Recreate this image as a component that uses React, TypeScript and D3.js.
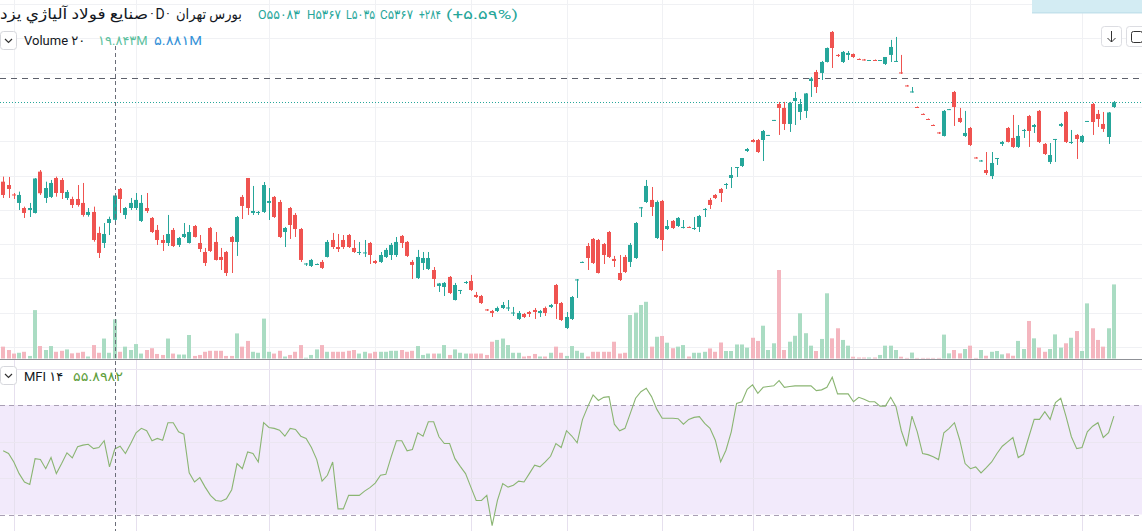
import React from 'react';
import * as d3 from 'd3';

const W = 1142;
const H = 531;

// OHLC (price units)
const opens = [
  5528, 5489, 5379, 5280, 5221, 5198, 5163, 5645, 5338, 5350,
  5571, 5548, 5338, 5326, 5326, 5280, 5140, 5175, 4930, 4813,
  5046, 5083, 5443, 5140, 5221, 5221, 5070, 5221, 5105, 4965,
  4848, 4813, 4965, 4790, 4883, 4813, 5011, 4813, 4708, 4988,
  4825, 4650, 4708, 4883, 4825, 5350, 5571, 5163, 5163, 5175,
  5280, 5350, 5291, 4941, 5221, 5140, 4976, 4563, 4545, 4563,
  4592, 4650, 4848, 4766, 4848, 4906, 4755, 4697, 4691, 4813,
  4603, 4592, 4650, 4673, 4673, 4895, 4825, 4592, 4405, 4580,
  4510, 4498, 4312, 4300, 4417, 4148, 4259, 4353, 4370, 4207,
  4195, 4038, 4020, 4020, 4055, 4049, 3991, 3927, 3985, 4008,
  4032, 3997, 4055, 4067, 4323, 4113, 3822, 3927, 4376, 4586,
  4778, 4860, 4848, 4801, 4941, 4627, 4463, 4650, 4592, 4638,
  5221, 5291, 5315, 4871, 5303, 4976, 5070, 5011, 4994, 5000,
  4982, 5000, 5204, 5315, 5373, 5443, 5495, 5571, 5693, 5711,
  5886, 6014, 6014, 6014, 6067, 6242, 6434, 6388, 6201, 6469,
  6341, 6353, 6702, 6807, 6796, 6924, 7274, 7006, 6924, 7006,
  7017, 6959, 6953, 6941, 6947, 6941, 6901, 7006, 6930, 6802,
  6650, 6574, 6399, 6318, 6259, 6189, 6102, 6061, 6370, 6574,
  6271, 6061, 6154, 5810, 5769, 5664, 5594, 5798, 5968, 6154,
  6038, 5933, 6125, 6294, 6166, 6353, 5968, 5758, 6020, 6178,
  6341, 5985, 6073, 5991, 6230, 6434, 6318, 6201, 6049, 6399,
];
const highs = [
  5587, 5583, 5396, 5412, 5237, 5280, 5571, 5664, 5528, 5548,
  5587, 5571, 5431, 5353, 5489, 5513, 5221, 5237, 5003, 5046,
  5120, 5367, 5454, 5233, 5338, 5396, 5373, 5396, 5116, 5023,
  4906, 5140, 4988, 4883, 5046, 5023, 5023, 4906, 4755, 5000,
  4941, 4755, 4720, 4895, 5128, 5373, 5571, 5478, 5186, 5524,
  5454, 5361, 5315, 5000, 5233, 5163, 4988, 4580, 4627, 4574,
  4615, 4848, 4930, 4918, 4906, 4918, 4848, 4825, 4848, 4825,
  4615, 4708, 4755, 4813, 4883, 4906, 4836, 4615, 4732, 4708,
  4708, 4533, 4347, 4358, 4428, 4347, 4265, 4370, 4440, 4242,
  4207, 4043, 4032, 4072, 4125, 4148, 4067, 4020, 3997, 4020,
  4055, 4032, 4072, 4102, 4335, 4125, 4008, 4195, 4393, 4597,
  4813, 4871, 4860, 4813, 4953, 4662, 4673, 4673, 4813, 5058,
  5233, 5548, 5466, 5309, 5315, 5081, 5081, 5116, 5081, 5006,
  5116, 5140, 5221, 5338, 5384, 5454, 5513, 5699, 5699, 5804,
  5921, 6026, 6026, 6131, 6073, 6248, 6458, 6458, 6458, 6574,
  6492, 6562, 6749, 6831, 6936, 7093, 7285, 7017, 7052, 7052,
  7023, 6965, 6959, 6947, 6953, 6947, 6982, 7181, 7216, 7006,
  6656, 6632, 6405, 6324, 6265, 6195, 6108, 6364, 6376, 6586,
  6388, 6353, 6166, 5816, 5781, 5874, 5874, 5804, 6003, 6166,
  6306, 6189, 6143, 6306, 6201, 6364, 5979, 5979, 6026, 6213,
  6353, 6131, 6084, 6073, 6236, 6446, 6364, 6341, 6341, 6469,
];
const lows = [
  5338, 5338, 5326, 5198, 5105, 5116, 5157, 5373, 5280, 5338,
  5353, 5326, 5315, 5221, 5237, 5120, 5120, 4828, 4638, 4755,
  4906, 5035, 5163, 5093, 5198, 5198, 5058, 5163, 4930, 4790,
  4720, 4778, 4766, 4766, 4871, 4807, 4877, 4708, 4545, 4708,
  4609, 4498, 4428, 4463, 4662, 5093, 5140, 5140, 5140, 5163,
  5081, 5105, 4871, 4766, 4860, 4883, 4592, 4545, 4533, 4557,
  4510, 4644, 4743, 4708, 4743, 4755, 4697, 4673, 4650, 4568,
  4568, 4580, 4638, 4615, 4650, 4755, 4650, 4393, 4393, 4498,
  4498, 4300, 4242, 4195, 4218, 4143, 4218, 4335, 4253, 4172,
  4102, 4020, 3950, 4008, 4043, 4020, 3962, 3915, 3938, 3950,
  3927, 3950, 3962, 4055, 3927, 3903, 3810, 3915, 4172, 4580,
  4498, 4568, 4457, 4568, 4638, 4533, 4370, 4463, 4533, 4627,
  5116, 5280, 5128, 4860, 4720, 4965, 4976, 5000, 4982, 4988,
  4965, 4941, 5116, 5210, 5326, 5291, 5443, 5454, 5583, 5699,
  5874, 5985, 5863, 5769, 6061, 6236, 6073, 6131, 6108, 6189,
  6248, 6271, 6516, 6562, 6714, 6918, 6854, 6982, 6912, 6947,
  6971, 6947, 6941, 6936, 6941, 6936, 6889, 6924, 6924, 6784,
  6638, 6568, 6388, 6306, 6248, 6178, 6084, 6055, 6364, 6178,
  6213, 6049, 5944, 5798, 5763, 5606, 5559, 5723, 5944, 5985,
  5921, 5921, 6038, 5933, 6096, 5979, 5839, 5734, 5758, 6166,
  5979, 5968, 5793, 5979, 6224, 6073, 6166, 6108, 5968, 6388,
];
const closes = [
  5373, 5443, 5367, 5373, 5163, 5221, 5565, 5393, 5454, 5513,
  5396, 5396, 5408, 5256, 5256, 5140, 5175, 4848, 4697, 4918,
  5093, 5367, 5326, 5221, 5280, 5315, 5280, 5186, 4941, 4848,
  4813, 4918, 4778, 4871, 4918, 4941, 4883, 4743, 4580, 4720,
  4615, 4615, 4463, 4825, 5116, 5245, 5221, 5186, 5175, 5489,
  5303, 5116, 4883, 4988, 5023, 4976, 4615, 4574, 4615, 4568,
  4522, 4825, 4766, 4743, 4766, 4766, 4708, 4708, 4703, 4673,
  4580, 4673, 4732, 4790, 4825, 4813, 4662, 4557, 4650, 4638,
  4638, 4393, 4341, 4347, 4230, 4323, 4265, 4358, 4265, 4183,
  4113, 4026, 3997, 4055, 4090, 4061, 4002, 3997, 3950, 3985,
  4008, 4020, 3997, 4090, 4102, 3915, 3950, 4183, 4388, 4592,
  4638, 4580, 4463, 4673, 4650, 4603, 4382, 4475, 4790, 5046,
  5229, 5478, 5233, 5291, 4848, 5011, 4988, 5105, 5000, 4994,
  4988, 5128, 5210, 5256, 5338, 5396, 5501, 5606, 5699, 5804,
  5909, 5991, 5874, 6119, 6073, 6248, 6388, 6201, 6446, 6504,
  6434, 6557, 6731, 6632, 6924, 7087, 7087, 6994, 7041, 7029,
  6982, 6953, 6947, 6947, 6944, 6947, 6982, 7099, 6936, 6790,
  6644, 6580, 6393, 6312, 6253, 6184, 6096, 6353, 6374, 6399,
  6224, 6096, 5956, 5804, 5775, 5629, 5746, 5804, 5991, 5991,
  5933, 6061, 6131, 6119, 6189, 5991, 5851, 5839, 6026, 6201,
  5991, 5991, 6026, 6061, 6236, 6224, 6259, 6143, 6335, 6454,
];
// Volume, millions
const volumes = [
  6.0, 4.3, 2.5, 2.9, 3.4, 1.3, 24.5, 6.3, 4.3, 6.3,
  3.4, 3.9, 4.6, 2.6, 2.9, 3.4, 1.0, 6.8, 2.9, 10.1,
  2.9, 19.843, 3.4, 6.0, 4.3, 7.3, 2.5, 4.3, 5.2, 2.3,
  1.8, 10.1, 2.5, 2.0, 2.0, 11.9, 1.3, 1.8, 3.4, 3.9,
  3.9, 3.9, 1.3, 1.3, 12.7, 6.0, 8.9, 3.4, 2.9, 20.2,
  3.4, 2.5, 3.9, 1.0, 1.8, 3.4, 6.8, 0.4, 1.8, 4.6,
  6.8, 3.4, 3.4, 3.4, 3.4, 3.9, 4.3, 2.5, 3.4, 2.6,
  3.4, 3.4, 3.4, 3.9, 3.9, 4.3, 3.4, 3.9, 6.3, 1.8,
  2.5, 2.5, 2.5, 6.8, 1.8, 4.6, 2.9, 2.5, 2.5, 2.5,
  2.5, 1.8, 8.5, 9.4, 10.1, 6.8, 2.9, 2.9, 1.0, 1.3,
  2.3, 1.0, 1.0, 2.9, 6.0, 2.9, 1.3, 6.3, 3.9, 2.9,
  1.0, 3.4, 3.4, 3.4, 3.4, 8.5, 2.5, 2.9, 22.0, 23.2,
  27.1, 28.7, 6.0, 11.0, 11.4, 8.0, 5.2, 6.0, 6.8, 1.0,
  2.9, 2.9, 3.4, 5.1, 3.4, 8.1, 3.8, 3.8, 7.1, 7.1,
  5.5, 10.5, 8.9, 16.6, 4.3, 7.7, 44.8, 4.3, 8.5, 11.5,
  22.9, 12.8, 6.5, 3.8, 9.9, 33.0, 10.2, 15.3, 9.4, 6.5,
  0.9, 0.5, 0.5, 0.5, 0.5, 1.8, 6.5, 6.5, 4.3, 0.9,
  0.3, 3.0, 0.3, 0.3, 0.3, 0.3, 0.3, 12.1, 2.6, 4.3,
  2.6, 4.8, 6.5, 0.3, 4.3, 1.4, 3.4, 3.8, 2.1, 2.6,
  1.4, 8.9, 4.8, 19.0, 10.2, 5.5, 3.4, 4.8, 12.2, 5.5,
  7.7, 10.5, 13.9, 3.8, 27.9, 15.3, 9.4, 6.0, 15.3, 37.5,
];
// Money Flow Index (14)
const mfi = [
  54.9, 53.4, 48.8, 42.4, 37.8, 36.5, 50.6, 50.1, 45.1, 51.2,
  42.4, 47.9, 53.8, 51.0, 57.1, 58.0, 58.5, 56.1, 56.7, 60.4,
  46.1, 55.9, 57.4, 53.4, 58.9, 64.8, 67.2, 65.9, 60.4, 61.7,
  60.7, 70.3, 70.3, 65.3, 64.0, 42.8, 37.8, 40.2, 35.0, 30.5,
  27.7, 27.3, 28.6, 33.6, 47.9, 45.1, 54.3, 53.4, 48.8, 70.3,
  67.7, 67.2, 66.2, 62.9, 67.2, 66.6, 62.9, 61.7, 56.7, 50.1,
  38.3, 41.5, 48.8, 23.1, 23.1, 30.5, 30.5, 30.5, 32.8, 34.7,
  37.2, 41.5, 42.0, 51.6, 60.4, 60.4, 54.9, 55.6, 64.8, 62.9,
  70.8, 70.8, 62.6, 58.9, 58.9, 50.6, 46.4, 42.4, 35.0, 27.7,
  27.7, 30.5, 13.9, 27.7, 36.9, 35.0, 36.0, 38.3, 37.8, 42.4,
  47.0, 46.1, 48.8, 51.9, 58.9, 56.7, 65.9, 63.0, 59.3, 72.0,
  79.1, 85.5, 82.5, 84.2, 84.6, 69.5, 65.9, 67.2, 75.4, 83.7,
  87.3, 89.2, 84.6, 77.6, 72.7, 72.7, 72.7, 72.5, 69.5, 72.1,
  73.2, 73.6, 69.9, 67.2, 60.7, 48.8, 55.2, 65.3, 80.9, 81.8,
  88.6, 91.0, 86.4, 89.7, 90.1, 90.5, 93.4, 89.7, 90.1, 90.5,
  90.5, 90.5, 90.5, 87.9, 88.3, 89.7, 95.2, 86.1, 86.1, 86.1,
  81.8, 84.2, 83.1, 81.8, 81.8, 79.4, 79.4, 84.2, 79.1, 65.9,
  57.4, 73.9, 65.3, 53.4, 52.8, 51.6, 50.1, 64.8, 67.2, 70.3,
  60.7, 47.9, 45.1, 46.1, 42.8, 45.7, 48.8, 53.4, 57.4, 59.8,
  62.2, 51.2, 53.0, 62.6, 72.1, 72.1, 76.3, 72.1, 81.3, 83.7,
  73.6, 62.6, 56.1, 56.7, 65.3, 68.4, 70.3, 62.2, 64.8, 73.9,
];

// bar indexes where a new month starts (vertical grid)
const monthStarts = [2, 25, 50, 70, 88, 106, 124, 141, 160, 182, 203];
const priceGrid = [3600, 4000, 4400, 4800, 5200, 5600, 6000, 6400, 6800, 7200, 7600];
const mfiGrid = [40, 60, 100];
const mfiBand = [20, 80];
const hoverIndex = 21;
const drawnLevel = 6734;

const symbolName = 'صنایع فولاد آلیاژي یزد';
const exchangeName = 'بورس تهران';
const ohlcLabels = [
  { t: 'O۵۵۰۸۳', x: 258, w: 42 },
  { t: 'H۵۳۶۷', x: 307, w: 34 },
  { t: 'L۵۰۳۵', x: 346, w: 29 },
  { t: 'C۵۳۶۷', x: 380, w: 33 },
  { t: '+۲۸۴', x: 419, w: 22 },
  { t: '(+۵.۵۹%)', x: 446, w: 72 },
];

const UP = '#26a69a';
const DOWN = '#ef5350';
const VOL_UP = '#aadcc3';
const VOL_DOWN = '#f4b6bf';
const GRID = '#f0f1f4';
const FONT = "Roboto, 'DejaVu Sans', sans-serif";

export default function App() {
  const n = closes.length;
  const x = d3.scaleLinear().domain([0, n - 1]).range([3.2, 1113.9]);
  const y = d3.scaleLinear().domain([3600, 7600]).range([347, 4]);
  const yv = d3.scaleLinear().domain([0, 44.8]).range([358.5, 270]);
  const ym = d3.scaleLinear().domain([20, 80]).range([514.5, 405]);
  const mfiLine = d3
    .line<number>()
    .x((_, i) => x(i))
    .y((d) => ym(d))(mfi);

  const bodyW = 4;
  const lastClose = closes[n - 1];

  return (
    <svg
      width={W}
      height={H}
      style={{ position: 'fixed', left: 0, top: 0, background: '#fff', fontFamily: FONT }}
    >
      <rect x={0} y={0} width={W} height={H} fill="#ffffff" />
      {/* main pane grid */}
      {priceGrid.map((p) => (
        <line key={'pg' + p} x1={0} x2={W} y1={Math.round(y(p)) + 0.5} y2={Math.round(y(p)) + 0.5} stroke={GRID} />
      ))}
      {monthStarts.map((i) => (
        <line key={'vg' + i} x1={Math.round(x(i)) + 0.5} x2={Math.round(x(i)) + 0.5} y1={0} y2={H} stroke={GRID} />
      ))}

      {/* MFI pane */}
      <rect x={0} y={ym(80)} width={W} height={ym(20) - ym(80)} fill="#f2eafb" />
      {monthStarts.map((i) => (
        <line key={'vg2' + i} x1={Math.round(x(i)) + 0.5} x2={Math.round(x(i)) + 0.5} y1={360} y2={H} stroke="#e6e0ee" />
      ))}
      {mfiGrid.map((v) => (
        <line key={'mg' + v} x1={0} x2={W} y1={Math.round(ym(v)) + 0.5} y2={Math.round(ym(v)) + 0.5} stroke="#ebe6f1" />
      ))}
      {mfiBand.map((v) => (
        <line
          key={'mb' + v}
          x1={0}
          x2={W}
          y1={Math.round(ym(v)) + 0.5}
          y2={Math.round(ym(v)) + 0.5}
          stroke="#a99fb4"
          strokeDasharray="5,4"
        />
      ))}
      <path d={mfiLine || ''} fill="none" stroke="#8ab572" strokeWidth={1.1} />

      {/* volume */}
      {volumes.map((v, i) => {
        const up = closes[i] >= opens[i];
        const cx = Math.round(x(i));
        return (
          <rect
            key={'v' + i}
            x={cx - 2}
            y={yv(v)}
            width={bodyW}
            height={358.5 - yv(v)}
            fill={up ? VOL_UP : VOL_DOWN}
          />
        );
      })}

      {/* levels */}
      <line x1={0} x2={W} y1={Math.round(y(drawnLevel)) + 0.5} y2={Math.round(y(drawnLevel)) + 0.5} stroke="#5d606b" strokeDasharray="6,5" />
      <line x1={0} x2={W} y1={Math.round(y(lastClose)) + 0.5} y2={Math.round(y(lastClose)) + 0.5} stroke={UP} strokeDasharray="1,2" />

      {/* candles */}
      {closes.map((c, i) => {
        const o = opens[i];
        const up = c >= o;
        const col = up ? UP : DOWN;
        const cx = Math.round(x(i));
        const top = y(Math.max(o, c));
        const bot = y(Math.min(o, c));
        return (
          <g key={'c' + i}>
            <rect x={cx} y={y(highs[i])} width={1} height={Math.max(1, y(lows[i]) - y(highs[i]))} fill={col} />
            <rect x={cx - 2} y={top} width={bodyW} height={Math.max(1, bot - top)} fill={col} />
          </g>
        );
      })}

      {/* pane separator */}
      <line x1={0} x2={W} y1={359.5} y2={359.5} stroke="#8f9197" />

      {/* crosshair */}
      <line
        x1={Math.round(x(hoverIndex)) + 0.5}
        x2={Math.round(x(hoverIndex)) + 0.5}
        y1={46}
        y2={H}
        stroke="#6a6d78"
        strokeDasharray="4,3"
      />

      {/* top-right banner & buttons */}
      <rect x={1032} y={0} width={110} height={13} fill="#d3ecf3" />
      <rect x={1032} y={12} width={110} height={1.5} fill="#c4e2ec" />
      <rect x={1101.5} y={26.5} width={20} height={20} rx={3} fill="#fff" stroke="#dcdde2" />
      <path d="M1111.5 31 L1111.5 42 M1107.5 38 L1111.5 42 L1115.5 38" fill="none" stroke="#333" strokeWidth={1} />
      <rect x={1126.5} y={26.5} width={22} height={20} rx={3} fill="#fff" stroke="#dcdde2" />
      <rect x={1131.5} y={31.5} width={11} height={11} rx={2} fill="none" stroke="#333" />

      {/* legend row 1 */}
      <text x={0} y={19} fontSize={15} fill="#131722" textLength={148} lengthAdjust="spacingAndGlyphs">{symbolName}</text>
      <text x={152} y={18} fontSize={13} fill="#131722" textAnchor="middle">·</text>
      <text x={160} y={19} fontSize={14} fill="#131722" textAnchor="middle">D</text>
      <text x={168} y={18} fontSize={13} fill="#131722" textAnchor="middle">·</text>
      <text x={176} y={19} fontSize={15} fill="#131722" textLength={66} lengthAdjust="spacingAndGlyphs">{exchangeName}</text>
      {ohlcLabels.map((l) => (
        <text key={l.t} x={l.x} y={19} fontSize={13} fill={UP} textLength={l.w} lengthAdjust="spacingAndGlyphs">
          {l.t}
        </text>
      ))}

      {/* legend row 2 */}
      <rect x={0.5} y={31.5} width={16} height={18} rx={3} fill="#fff" stroke="#d6d7dc" />
      <path d="M5 39 L8.5 42.5 L12 39" fill="none" stroke="#333" strokeWidth={1.2} />
      <text x={24} y={45} fontSize={13} fill="#131722">Volume ۲۰</text>
      <text x={98} y={45} fontSize={13} fill="#5cbf9e">۱۹.۸۴۳M</text>
      <text x={154} y={45} fontSize={13} fill="#3592d8" textLength={48} lengthAdjust="spacingAndGlyphs">۵.۸۸۱M</text>

      {/* MFI legend */}
      <rect x={0.5} y={366.5} width={16} height={18} rx={3} fill="#fff" stroke="#d6d7dc" />
      <path d="M5 374 L8.5 377.5 L12 374" fill="none" stroke="#333" strokeWidth={1.2} />
      <text x={24} y={381} fontSize={13} fill="#131722">MFI ۱۴</text>
      <text x={73} y={381} fontSize={13} fill="#5e9e3a" textLength={50} lengthAdjust="spacingAndGlyphs">۵۵.۸۹۸۲</text>
    </svg>
  );
}
